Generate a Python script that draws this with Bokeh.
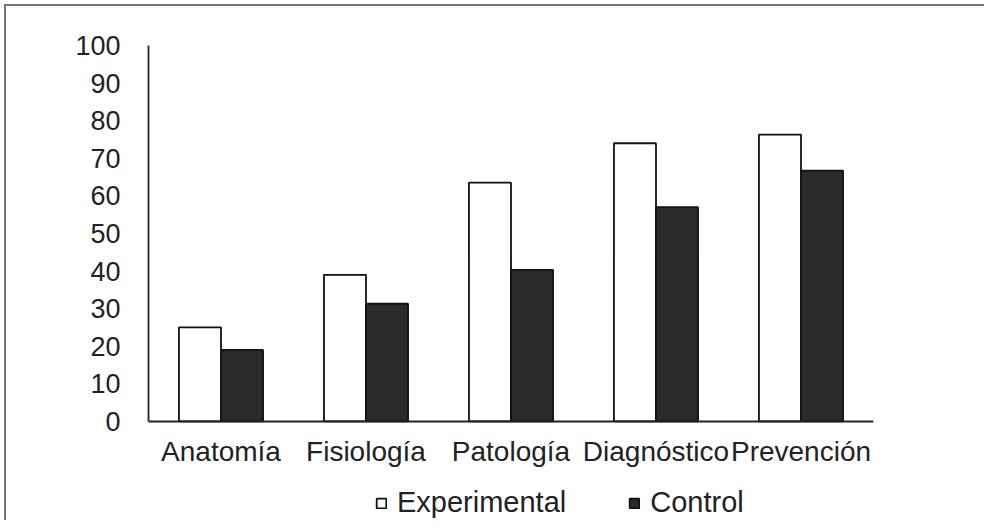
from bokeh.plotting import figure
from bokeh.models import ColumnDataSource, Range1d, FixedTicker, Legend, LegendItem
from bokeh.transform import dodge
from bokeh.embed import file_html
from bokeh.resources import INLINE

categories = ["Anatomía", "Fisiología", "Patología", "Diagnóstico", "Prevención"]
experimental = [25, 39, 63.5, 74, 76.3]
control = [19, 31.3, 40.3, 57, 66.7]
y_ticks = [0, 10, 20, 30, 40, 50, 60, 70, 80, 90, 100]

source = ColumnDataSource(data=dict(cat=categories, exp=experimental, ctl=control))

FONT = "Liberation Sans"
TXT = "#222222"

# frame extends below zero so that the legend can sit inside it (legend is clipped to frame)
p = figure(x_range=categories, y_range=Range1d(-26.9, 100),
           width=980, height=516, output_backend="svg", toolbar_location=None,
           min_border_left=142, min_border_top=39, min_border_right=113, min_border_bottom=0,
           styles={"border-top": "2px solid #777777", "border-left": "2px solid #777777",
                   "border-right": "none", "border-bottom": "none",
                   "margin-top": "4px", "margin-left": "4px"})
p.x_range.range_padding = 0

bw = 0.29
r_exp = p.vbar(x=dodge("cat", -bw / 2, range=p.x_range), top="exp", bottom=0, width=bw, source=source,
               fill_color="white", line_color="#111111", line_width=1.8)
r_ctl = p.vbar(x=dodge("cat", bw / 2, range=p.x_range), top="ctl", bottom=0, width=bw, source=source,
               fill_color="#2b2b2b", line_color="#111111", line_width=1.8)

p.outline_line_color = None
p.xgrid.grid_line_color = None
p.ygrid.grid_line_color = None
p.background_fill_color = "white"
p.border_fill_color = "white"

p.yaxis.ticker = FixedTicker(ticks=y_ticks)
p.yaxis.bounds = (0, 100)
p.xaxis.fixed_location = 0
for ax in (p.xaxis, p.yaxis):
    ax.axis_line_color = "#222222"
    ax.axis_line_width = 1.8
    ax.major_tick_line_color = None
    ax.minor_tick_line_color = None
    ax.major_tick_out = 0
    ax.major_tick_in = 0
    ax.major_label_text_font = FONT
    ax.major_label_text_color = TXT
p.yaxis.major_label_text_font_size = "27px"
p.yaxis.major_label_standoff = 28
p.xaxis.major_label_text_font_size = "28px"
p.xaxis.major_label_standoff = 15

legend = Legend(items=[LegendItem(label="Experimental", renderers=[r_exp]),
                       LegendItem(label="Control", renderers=[r_ctl])],
                orientation="horizontal", location=(227, 3),
                glyph_width=12, glyph_height=12, label_standoff=10, spacing=62,
                padding=0, margin=0, border_line_color=None, background_fill_alpha=0,
                label_text_font=FONT, label_text_font_size="29px", label_text_color=TXT)
p.add_layout(legend, "center")

open("out.html", "w").write(file_html(p, INLINE))
